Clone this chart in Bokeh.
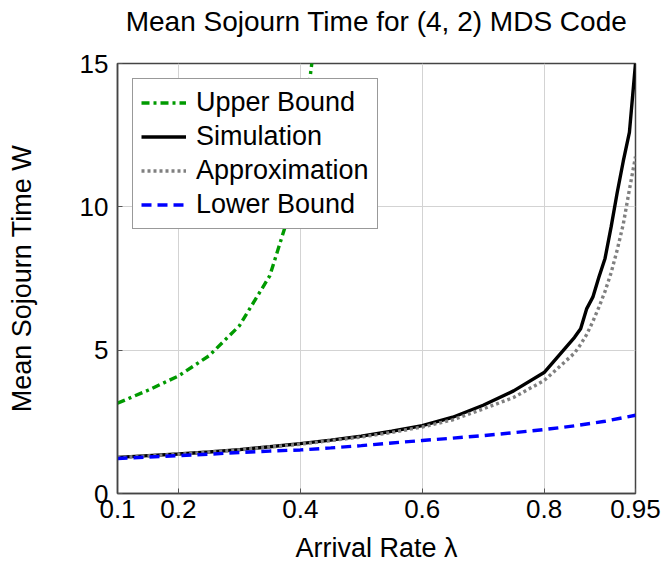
from bokeh.plotting import figure
from bokeh.models import FixedTicker, Legend, LegendItem, Range1d, Title
from bokeh.embed import file_html
from bokeh.resources import INLINE

# ---- data ----
title_text = "Mean Sojourn Time for (4, 2) MDS Code"

lam_upper = [0.1, 0.15, 0.2, 0.25, 0.3, 0.35, 0.375, 0.4, 0.42]
w_upper = [3.15, 3.6, 4.1, 4.8, 5.85, 7.6, 9.3, 11.8, 15.2]

lam_sim = [0.1, 0.15, 0.2, 0.25, 0.3, 0.35, 0.4, 0.45, 0.5, 0.55, 0.6, 0.65, 0.7,
           0.75, 0.8, 0.85, 0.86, 0.87, 0.88, 0.89, 0.9, 0.91, 0.92, 0.93, 0.94, 0.95]
w_sim = [1.26, 1.32, 1.38, 1.45, 1.53, 1.63, 1.74, 1.86, 2.0, 2.17, 2.37, 2.66, 3.08,
         3.58, 4.22, 5.45, 5.75, 6.45, 6.85, 7.55, 8.2, 9.3, 10.5, 11.6, 12.6, 15.0]

lam_approx = [0.1, 0.2, 0.3, 0.4, 0.5, 0.55, 0.6, 0.65, 0.7, 0.75, 0.8, 0.85, 0.86,
              0.87, 0.88, 0.89, 0.9, 0.91, 0.92, 0.93, 0.94, 0.95]
w_approx = [1.25, 1.37, 1.52, 1.72, 1.97, 2.13, 2.32, 2.57, 2.95, 3.35, 3.94, 4.9, 5.2,
            5.55, 6.0, 6.5, 7.05, 7.7, 8.5, 9.4, 10.6, 11.75]

lam_lower = [0.1, 0.15, 0.2, 0.25, 0.3, 0.35, 0.4, 0.45, 0.5, 0.55, 0.6, 0.65, 0.7,
             0.75, 0.8, 0.85, 0.9, 0.95]
w_lower = [1.22, 1.27, 1.32, 1.37, 1.43, 1.48, 1.52, 1.59, 1.67, 1.76, 1.85, 1.93, 2.02,
           2.12, 2.23, 2.36, 2.52, 2.73]

x_ticks = [0.1, 0.2, 0.4, 0.6, 0.8, 0.95]
y_ticks = [0, 5, 10, 15]

FONT = "Liberation Sans"

p = figure(width=663, height=567, output_backend="svg", toolbar_location=None,
           x_range=Range1d(0.1, 0.95), y_range=Range1d(0, 15),
           frame_width=518, frame_height=430,
           min_border_left=117, min_border_top=0, min_border_right=28, min_border_bottom=74,
           title=title_text)

p.title.text_font = FONT
p.title.text_font_size = "28px"
p.title.text_font_style = "normal"
p.title.align = "center"
p.title.text_color = "black"
p.title.standoff = 6

# spacer panel between the title and the plot frame
p.add_layout(Title(text=" ", text_font_size="20px", standoff=0), "above")

for ax in (p.xaxis[0], p.yaxis[0]):
    ax.axis_label_text_font = FONT
    ax.axis_label_text_font_size = "27px"
    ax.axis_label_text_font_style = "normal"
    ax.axis_label_text_color = "black"
    ax.major_label_text_font = FONT
    ax.major_label_text_font_size = "26px"
    ax.major_label_text_color = "black"
    ax.axis_line_color = "#444444"
    ax.axis_line_width = 1.5
    ax.major_tick_in = 5
    ax.major_tick_out = 0
    ax.major_tick_line_color = "#555555"
    ax.minor_tick_line_color = None

p.xaxis.axis_label = "Arrival Rate λ"
p.yaxis.axis_label = "Mean Sojourn Time W"
p.xaxis.ticker = FixedTicker(ticks=x_ticks)
p.yaxis.ticker = FixedTicker(ticks=y_ticks)
p.xaxis.major_label_standoff = 6
p.yaxis.major_label_standoff = 9
p.xaxis.axis_label_standoff = 12
p.yaxis.axis_label_standoff = 40

p.xgrid.ticker = FixedTicker(ticks=x_ticks)
p.ygrid.ticker = FixedTicker(ticks=y_ticks)
p.grid.grid_line_color = "#d3d3d3"
p.grid.grid_line_width = 1

p.outline_line_color = "#444444"
p.outline_line_width = 1.5
p.background_fill_color = "white"
p.border_fill_color = "white"

r_up = p.line(lam_upper, w_upper, line_color="#009a00", line_width=3.4, line_dash="8 4 3 4")
r_sim = p.line(lam_sim, w_sim, line_color="black", line_width=3.4)
r_app = p.line(lam_approx, w_approx, line_color="#808080", line_width=3.4, line_dash="3 3")
r_low = p.line(lam_lower, w_lower, line_color="#0000ff", line_width=3.4, line_dash="10 6")

legend = Legend(items=[
    LegendItem(label="Upper Bound", renderers=[r_up]),
    LegendItem(label="Simulation", renderers=[r_sim]),
    LegendItem(label="Approximation", renderers=[r_app]),
    LegendItem(label="Lower Bound", renderers=[r_low]),
], location="top_left")
legend.label_text_font = FONT
legend.label_text_font_size = "27px"
legend.label_text_color = "black"
legend.glyph_width = 45
legend.glyph_height = 29
legend.label_height = 29
legend.label_standoff = 10
legend.spacing = 3
legend.padding = 8
legend.margin = 15
legend.border_line_color = "#333333"
legend.border_line_width = 1.5
legend.background_fill_color = "white"
legend.background_fill_alpha = 1.0
p.add_layout(legend)

open("out.html", "w").write(file_html(p, INLINE))
